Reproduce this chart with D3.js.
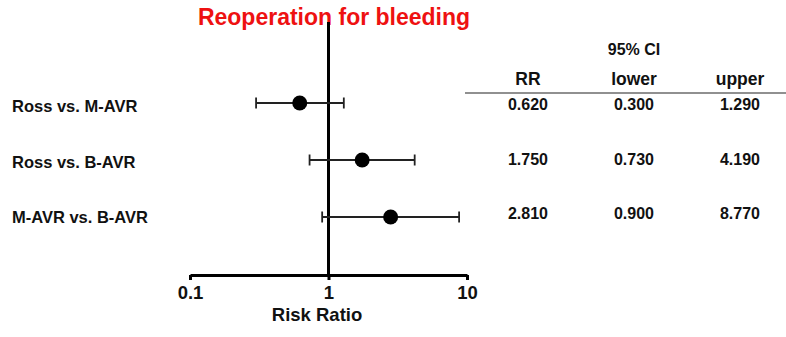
<!DOCTYPE html>
<html>
<head>
<meta charset="utf-8">
<script src="https://cdn.jsdelivr.net/npm/d3@7"></script>
<style>
	body { margin: 0; background: #fff; }
	svg { display: block; font-family: Arial, "Liberation Sans", sans-serif; font-weight: bold; }
</style>
</head>
<body>
<svg id="chart" width="786" height="337"></svg>
<script>
const comparisons = ['Ross vs. M-AVR', 'Ross vs. B-AVR', 'M-AVR vs. B-AVR'];
const rr = [0.62, 1.75, 2.81];
const lower = [0.3, 0.73, 0.9];
const upper = [1.29, 4.19, 8.77];
const xTicks = [0.1, 1, 10];
const tableCols = ['RR', 'lower', 'upper'];

const $svg = d3.select('#chart');

const x = d3.scaleLog().domain([0.1, 10]).range([190, 467]);
const y = d3.scalePoint().domain(comparisons).range([103, 217]);
const labelY = d3.scalePoint().domain(comparisons).range([106, 217]);
const rowY = d3.scalePoint().domain(comparisons).range([104, 213]);
const colX = d3.scalePoint().domain(tableCols).range([528, 740]);

// title
$svg.append('text')
	.attr('x', 334).attr('y', 25)
	.attr('text-anchor', 'middle')
	.attr('fill', '#ee1111')
	.style('font-size', '23px')
	.text('Reoperation for bleeding');

// x axis
const axisY = 275;
const $axis = $svg.append('g')
	.attr('transform', `translate(0,${axisY})`)
	.call(d3.axisBottom(x).tickValues(xTicks).tickFormat(d3.format('')).tickSize(5).tickSizeOuter(0));
$axis.select('.domain').attr('stroke', '#000').attr('stroke-width', 3);
$axis.selectAll('.tick line').attr('stroke', '#000').attr('stroke-width', 3);
$axis.selectAll('.tick text')
	.attr('y', 11)
	.attr('fill', '#111')
	.style('font-size', '18.5px')
	.style('font-family', 'Arial, "Liberation Sans", sans-serif')
	.style('font-weight', 'bold');

$svg.append('text')
	.attr('x', 317).attr('y', 321)
	.attr('text-anchor', 'middle')
	.attr('fill', '#111')
	.style('font-size', '18.5px')
	.text('Risk Ratio');

// null line
$svg.append('line')
	.attr('x1', x(1)).attr('x2', x(1))
	.attr('y1', 22).attr('y2', axisY)
	.attr('stroke', '#000').attr('stroke-width', 3);

// rows
const rows = comparisons.map((c, i) => ({ name: c, rr: rr[i], lo: lower[i], hi: upper[i] }));

const $row = $svg.selectAll('.row')
	.data(rows)
	.enter()
	.append('g')
	.attr('class', 'row');

$row.append('text')
	.attr('x', 12)
	.attr('y', d => labelY(d.name) + 6)
	.attr('fill', '#111')
	.style('font-size', '16.5px')
	.text(d => d.name);

$row.append('line')
	.attr('x1', d => x(d.lo)).attr('x2', d => x(d.hi))
	.attr('y1', d => y(d.name)).attr('y2', d => y(d.name))
	.attr('stroke', '#222').attr('stroke-width', 1.8);

['lo', 'hi'].forEach(k => {
	$row.append('line')
		.attr('x1', d => x(d[k])).attr('x2', d => x(d[k]))
		.attr('y1', d => y(d.name) - 5.5).attr('y2', d => y(d.name) + 5.5)
		.attr('stroke', '#222').attr('stroke-width', 1.8);
});

$row.append('circle')
	.attr('cx', d => x(d.rr))
	.attr('cy', d => y(d.name))
	.attr('r', 7.5)
	.attr('fill', '#000');

// table
const fmt = d3.format('.3f');
$svg.append('text')
	.attr('x', colX('lower')).attr('y', 55)
	.attr('text-anchor', 'middle')
	.attr('fill', '#111')
	.style('font-size', '16px')
	.text('95% CI');

$svg.selectAll('.col-head')
	.data(tableCols)
	.enter()
	.append('text')
	.attr('class', 'col-head')
	.attr('x', d => colX(d)).attr('y', 85)
	.attr('text-anchor', 'middle')
	.attr('fill', '#111')
	.style('font-size', '17.5px')
	.text(d => d);

$svg.append('line')
	.attr('x1', 465).attr('x2', 786)
	.attr('y1', 93).attr('y2', 93)
	.attr('stroke', '#222').attr('stroke-width', 1.2);

rows.forEach(r => {
	const vals = { RR: r.rr, lower: r.lo, upper: r.hi };
	tableCols.forEach(c => {
		$svg.append('text')
			.attr('x', colX(c)).attr('y', rowY(r.name) + 6)
			.attr('text-anchor', 'middle')
			.attr('fill', '#111')
			.style('font-size', '16px')
			.text(fmt(vals[c]));
	});
});
</script>
</body>
</html>
